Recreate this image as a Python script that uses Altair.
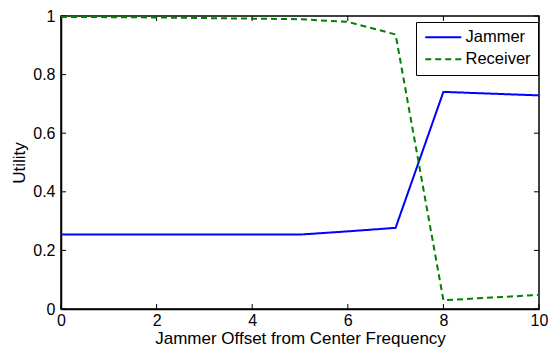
import altair as alt
import pandas as pd

# Jammer offset (frequency bins) and utility of each player
offsets = [0, 1, 2, 3, 4, 5, 6, 7, 8, 9, 10]
jammer_utility = [0.254, 0.254, 0.254, 0.254, 0.254, 0.254, 0.265, 0.277, 0.741, 0.735, 0.729]
receiver_utility = [0.997, 0.996, 0.995, 0.993, 0.991, 0.989, 0.980, 0.937, 0.030, 0.039, 0.048]
series_names = ["Jammer", "Receiver"]

x_ticks = [0, 2, 4, 6, 8, 10]
y_ticks = [0, 0.2, 0.4, 0.6, 0.8, 1]

FONT = "Liberation Sans"
W, H = 478, 293

df = pd.DataFrame(
    {
        "offset": offsets * 2,
        "utility": jammer_utility + receiver_utility,
        "series": [series_names[0]] * len(offsets) + [series_names[1]] * len(offsets),
    }
)

x_scale = alt.Scale(domain=[0, 10], nice=False, zero=False)
y_scale = alt.Scale(domain=[0, 1], nice=False, zero=False)

lines = (
    alt.Chart(df)
    .mark_line(strokeWidth=2, clip=True)
    .encode(
        x=alt.X(
            "offset:Q",
            scale=x_scale,
            title="Jammer Offset from Center Frequency",
            axis=alt.Axis(values=x_ticks, ticks=False, labelFlush=False,
                          labelPadding=3, titlePadding=2),
        ),
        y=alt.Y(
            "utility:Q",
            scale=y_scale,
            title="Utility",
            axis=alt.Axis(values=y_ticks, ticks=False, labelFlush=False,
                          labelPadding=6, titlePadding=4,
                          labelExpr="datum.value == 0 || datum.value == 1 ? format(datum.value, 'd') : format(datum.value, '.1f')"),
        ),
        color=alt.Color(
            "series:N",
            scale=alt.Scale(domain=series_names, range=["#0000ff", "#008000"]),
            legend=alt.Legend(title=None),
        ),
        strokeDash=alt.StrokeDash(
            "series:N",
            scale=alt.Scale(domain=series_names, range=[[1, 0], [6, 4]]),
            legend=alt.Legend(title=None),
        ),
    )
)

# Inward tick marks on all four sides of the box
tick_x = pd.DataFrame({"t": x_ticks})
tick_y = pd.DataFrame({"t": y_ticks})
tl_y = 5 / H
tl_x = 5 / W * 10

bottom_ticks = alt.Chart(tick_x).mark_rule(color="black", strokeWidth=1).encode(
    x=alt.X("t:Q", scale=x_scale), y=alt.datum(0), y2=alt.datum(tl_y)
)
top_ticks = alt.Chart(tick_x).mark_rule(color="black", strokeWidth=1).encode(
    x=alt.X("t:Q", scale=x_scale), y=alt.datum(1), y2=alt.datum(1 - tl_y)
)
left_ticks = alt.Chart(tick_y).mark_rule(color="black", strokeWidth=1).encode(
    y=alt.Y("t:Q", scale=y_scale), x=alt.datum(0), x2=alt.datum(tl_x)
)
right_ticks = alt.Chart(tick_y).mark_rule(color="black", strokeWidth=1).encode(
    y=alt.Y("t:Q", scale=y_scale), x=alt.datum(10), x2=alt.datum(10 - tl_x)
)

chart = (
    alt.layer(bottom_ticks, top_ticks, left_ticks, right_ticks, lines)
    .properties(
        width=W,
        height=H,
        autosize=alt.AutoSizeParams(type="none"),
        padding={"left": 61, "top": 16, "right": 9, "bottom": 38},
    )
    .configure_view(stroke="black", strokeWidth=1.5)
    .configure_axis(
        domainColor="black",
        domainWidth=1.5,
        grid=False,
        labelFont=FONT,
        titleFont=FONT,
        labelFontSize=16,
        titleFontSize=17,
        titleFontWeight="normal",
        labelColor="black",
        titleColor="black",
    )
    .configure_legend(
        orient="none",
        legendX=355,
        legendY=6,
        strokeColor="black",
        fillColor="white",
        padding=7,
        labelFont=FONT,
        labelFontSize=16.5,
        labelColor="black",
        # a short horizontal stroke that runs to the right of its anchor
        symbolType="M-1,0H5",
        symbolSize=144,
        symbolStrokeWidth=2,
        labelOffset=26,
        rowPadding=5,
        cornerRadius=0,
    )
)

chart.save("out.html", embed_options={"renderer": "svg", "actions": False})
